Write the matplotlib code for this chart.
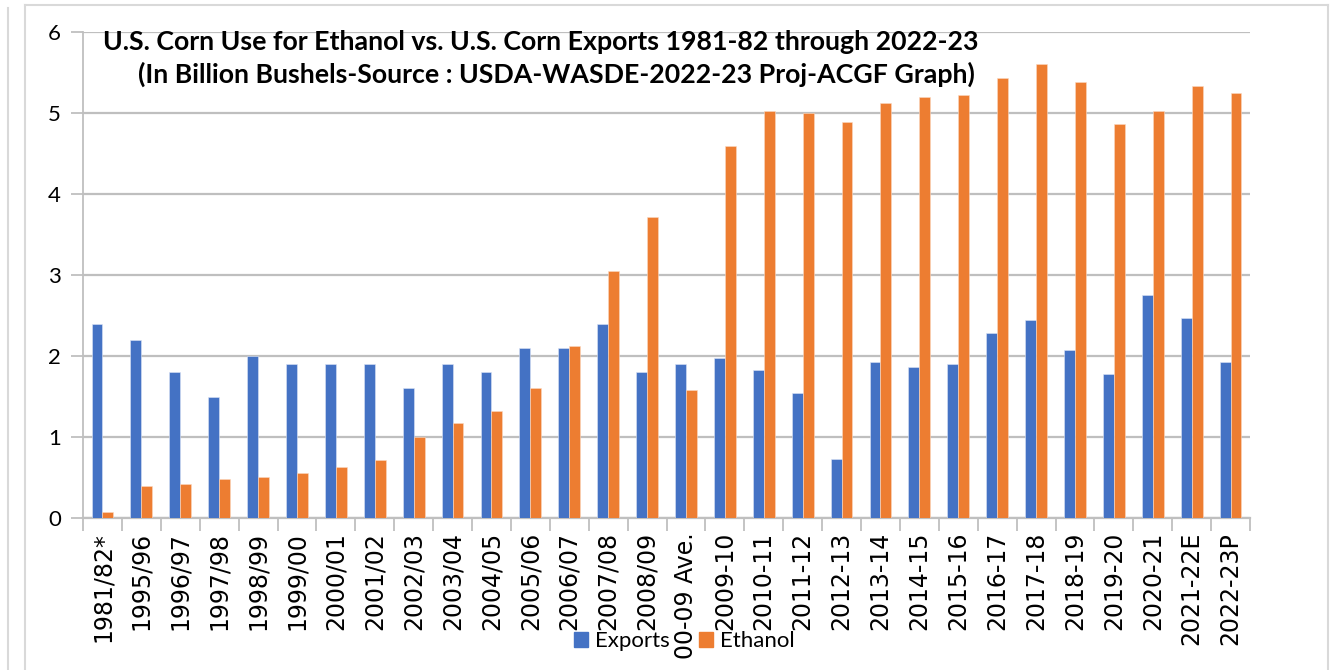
"""
U.S. corn use for ethanol vs. corn exports, grouped bar chart.
"""
import numpy as np
import matplotlib
matplotlib.use('Agg')
import matplotlib.pyplot as plt
from matplotlib.lines import Line2D
from matplotlib.patches import Patch

W, H = 1331, 670

seasons = ['1981/82*', '1995/96', '1996/97', '1997/98', '1998/99', '1999/00',
           '2000/01', '2001/02', '2002/03', '2003/04', '2004/05', '2005/06',
           '2006/07', '2007/08', '2008/09', '00-09 Ave.', '2009-10', '2010-11',
           '2011-12', '2012-13', '2013-14', '2014-15', '2015-16', '2016-17',
           '2017-18', '2018-19', '2019-20', '2020-21', '2021-22E', '2022-23P']

exports = [2.40, 2.20, 1.80, 1.50, 2.00, 1.90, 1.90, 1.90, 1.60, 1.90, 1.80, 2.10,
           2.10, 2.40, 1.80, 1.90, 1.98, 1.83, 1.54, 0.73, 1.92, 1.87, 1.90, 2.29,
           2.44, 2.07, 1.78, 2.75, 2.47, 1.92]

ethanol = [0.08, 0.39, 0.42, 0.48, 0.51, 0.56, 0.63, 0.71, 1.00, 1.17, 1.32, 1.60,
           2.12, 3.05, 3.71, 1.58, 4.59, 5.02, 5.00, 4.89, 5.12, 5.20, 5.22, 5.43,
           5.60, 5.38, 4.86, 5.03, 5.33, 5.25]

blue = '#4472C4'
orange = '#ED7D31'
grid_gray = '#BFBFBF'

fig = plt.figure(figsize=(W / 100, H / 100), dpi=100)

# outer frame like the source screenshot
for xs, ys in [([25, 25], [0, 665]), ([25, 1328], [665, 665]),
               ([1328, 1328], [665, 0]), ([8, 8], [0, 662])]:
    fig.add_artist(Line2D([x / W for x in xs], [y / H for y in ys],
                          color='#D9D9D9', lw=1.5))

ax = fig.add_axes([83 / W, (H - 518) / H, (1250 - 83) / W, (518 - 32) / H])

x = np.arange(len(seasons))
bw = 0.28
ax.bar(x - bw / 2, exports, bw, color=blue, edgecolor='#DCE4F5', linewidth=0.4, zorder=3)
ax.bar(x + bw / 2, ethanol, bw, color=orange, edgecolor='#FBD9C2', linewidth=0.4, zorder=3)

ax.set_xlim(-0.5, len(seasons) - 0.5)
ax.set_ylim(0, 6)
ax.set_yticks(range(7))
ax.set_yticklabels([str(v) for v in range(7)], fontsize=16, family='Lato')
ax.set_xticks(np.arange(len(seasons) + 1) - 0.5, minor=False)
ax.set_xticklabels([])
ax.set_xticks(x, minor=True)
ax.set_xticklabels(seasons, minor=True, rotation=90, fontsize=17, family='DejaVu Sans')
ax.tick_params(axis='x', which='major', length=9, width=1.3, color=grid_gray)
ax.tick_params(axis='x', which='minor', length=0, pad=10)
ax.tick_params(axis='y', length=9, width=1.3, color=grid_gray, pad=7)

ax.yaxis.grid(True, color=grid_gray, lw=1.6, zorder=0)
for side in ['top', 'right']:
    ax.spines[side].set_visible(False)
ax.spines['left'].set_color(grid_gray)
ax.spines['left'].set_linewidth(1.3)
ax.spines['bottom'].set_color(grid_gray)
ax.spines['bottom'].set_linewidth(1.6)

fig.text(541 / W, 1 - 42 / H,
         'U.S. Corn Use for Ethanol vs. U.S. Corn Exports 1981-82 through 2022-23',
         ha='center', va='center', fontsize=19.3, fontweight='bold', family='Lato')
fig.text(556 / W, 1 - 74 / H,
         '(In Billion Bushels-Source : USDA-WASDE-2022-23 Proj-ACGF Graph)',
         ha='center', va='center', fontsize=19.3, fontweight='bold', family='Lato')

handles = [Patch(color=blue, label='Exports'), Patch(color=orange, label='Ethanol')]
fig.legend(handles=handles, loc='center', bbox_to_anchor=(684 / W, 1 - 641 / H),
           ncol=2, frameon=False, prop={'family': 'Lato', 'size': 16},
           handlelength=0.65, handleheight=0.65, handletextpad=0.3, columnspacing=1.3)

fig.savefig('out.png', dpi=100)
